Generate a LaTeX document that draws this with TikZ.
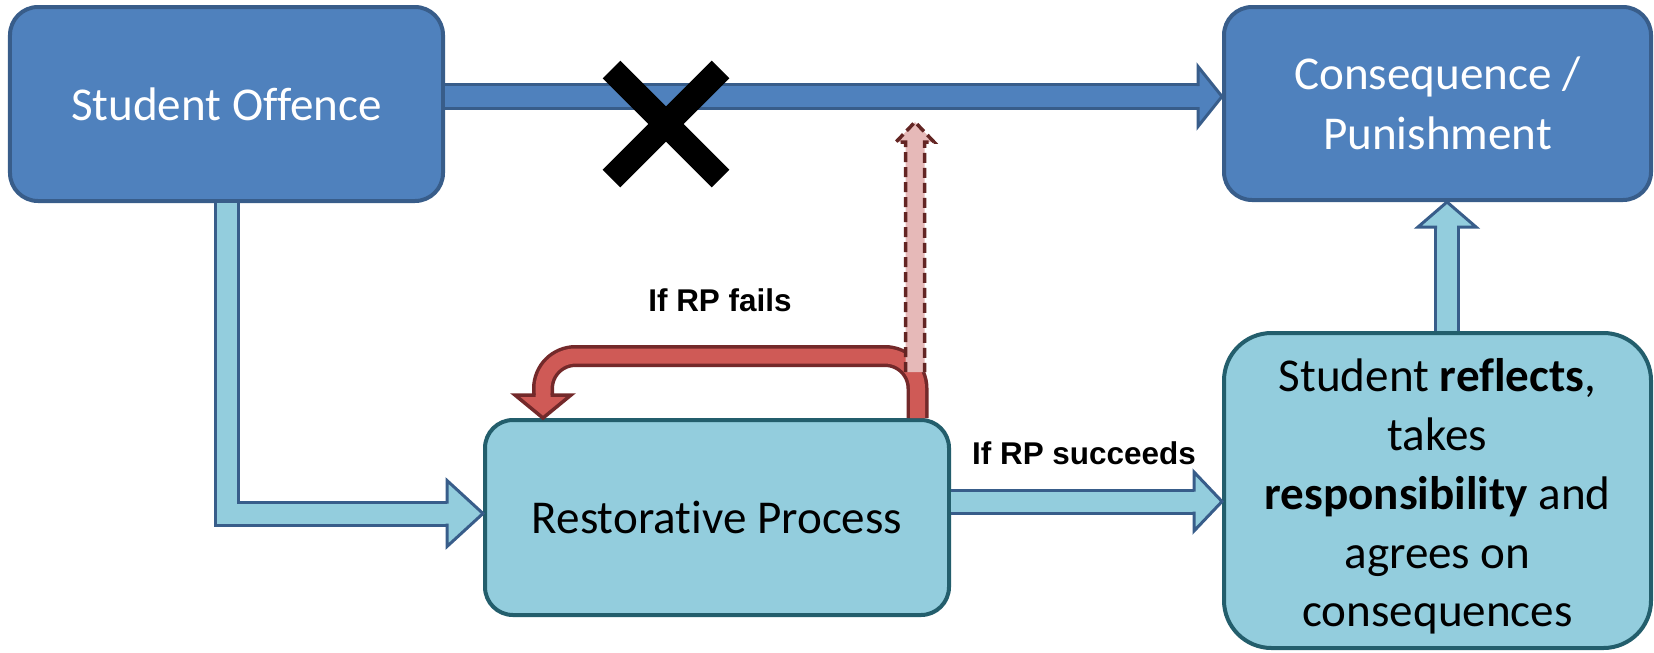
\documentclass[tikz,border=0pt]{standalone}
\usepackage{fontspec}
\setmainfont{Carlito}[Ligatures=NoCommon]
\newfontfamily\labelfont{Liberation Sans}
\usetikzlibrary{calc}

\definecolor{offblue}{HTML}{4F81BD}
\definecolor{edgeblue}{HTML}{385D8A}
\definecolor{rpblue}{HTML}{93CDDD}
\definecolor{edgeteal}{HTML}{235E6C}
\definecolor{failred}{HTML}{CF5A56}
\definecolor{edgered}{HTML}{73292A}
\definecolor{dashpink}{HTML}{E6B9B8}
\definecolor{edgebrown}{HTML}{632523}

\begin{document}
\begin{tikzpicture}
        % Styles
        \tikzstyle{box}=[rounded corners=0.56cm,line width=0.08cm,align=center,font=\fontsize{26.8}{34}\selectfont]
        \tikzstyle{dark box}=[box,fill=offblue,draw=edgeblue,text=white]
        \tikzstyle{light box}=[box,fill=rpblue,draw=edgeteal,text=black]
        \tikzstyle{dark shaft}=[draw=edgeblue,line width=0.06cm,double=offblue,double distance=0.42cm]
        \tikzstyle{dark head}=[draw=edgeblue,line width=0.06cm,fill=offblue]
        \tikzstyle{light shaft}=[draw=edgeblue,line width=0.06cm,double=rpblue,double distance=0.4cm]
        \tikzstyle{light head}=[draw=edgeblue,line width=0.06cm,fill=rpblue]
        \tikzstyle{fail shaft}=[draw=edgered,line width=0.07cm,double=failred,double distance=0.3cm,rounded corners=0.65cm]
        \tikzstyle{fail head}=[draw=edgered,line width=0.07cm,fill=failred]
        \tikzstyle{escalate}=[draw=edgebrown,line width=0.07cm,fill=dashpink,dash pattern=on 0.2cm off 0.1cm]
        \tikzstyle{branch label}=[font=\labelfont\bfseries\fontsize{17.9}{21}\selectfont]
        \useasboundingbox (0,0) rectangle (33.08,-13.04);
        %boxes
        \node[dark box,minimum width=8.66cm,minimum height=3.88cm] (offence) at (4.53,-2.08) {Student Offence};
        \node[dark box,minimum width=8.54cm,minimum height=3.86cm] (cons) at (28.75,-2.07) {Consequence /\\Punishment};
        \node[light box,minimum width=9.28cm,minimum height=3.9cm] (rp) at (14.34,-10.35) {Restorative Process};
        \node[light box,rounded corners=0.95cm,minimum width=8.54cm,minimum height=6.3cm,
              font=\fontsize{26.8}{33.5}\selectfont] (refl) at (28.75,-9.81)
            {\\[-0.28cm]Student \textbf{reflects},\\takes\\\textbf{responsibility} and\\agrees on\\consequences};
        %direct route
        \coordinate (direct) at ($(offence.east)+(0,0.15)$);
        \coordinate (directend) at (cons.west |- direct);
        \draw[dark shaft] (direct) -- ([xshift=-0.48cm]directend);
        \draw[dark head,shift={(directend)}] (-0.48,0.21) -- (-0.48,0.6) -- (0,0) -- (-0.48,-0.6) -- (-0.48,-0.21);
        \draw[line width=0.5cm] (12.23,-1.39) -- (14.41,-3.57) (12.23,-3.57) -- (14.41,-1.39);
        %into the restorative process
        \coordinate (intake) at ($(rp.west)+(0,0.08)$);
        \draw[light shaft] (offence.south) |- ([xshift=-0.72cm]intake);
        \draw[light head,shift={(intake)}] (-0.72,0.2) -- (-0.72,0.66) -- (0,0) -- (-0.72,-0.66) -- (-0.72,-0.2);
        %success
        \coordinate (success) at ($(rp.east)+(0,0.32)$);
        \coordinate (successend) at (refl.west |- success);
        \draw[light shaft] (success) -- ([xshift=-0.56cm]successend);
        \draw[light head,shift={(successend)}] (-0.56,0.2) -- (-0.56,0.59) -- (0,0) -- (-0.56,-0.59) -- (-0.56,-0.2);
        \node[branch label] (successlabel) at (21.68,-9.06) {If RP succeeds};
        \coordinate (accept) at ($(refl.north)+(0.19,0)$);
        \coordinate (acceptend) at (cons.south -| accept);
        \draw[light shaft] (accept) -- ([yshift=-0.5cm]acceptend);
        \draw[light head,shift={(acceptend)},rotate=90] (-0.5,0.2) -- (-0.5,0.58) -- (0,0) -- (-0.5,-0.58) -- (-0.5,-0.2);
        %failure loop
        \coordinate (failstart) at ($(rp.north)+(4.01,0)$);
        \coordinate (failend) at ($(rp.north)+(-3.48,0)$);
        \draw[fail shaft] (failstart) -- ++(0,1.24) -| ($(failend)+(0,0.46)$);
        \draw[fail head,shift={(failend)}] (-0.15,0.46) -- (-0.56,0.46) -- (0,0) -- (0.56,0.46) -- (0.15,0.46);
        \node[branch label] (faillabel) at (14.4,-6.0) {If RP fails};
        \coordinate (esctip) at ($(failstart)+(-0.05,5.92)$);
        \draw[escalate,shift={(esctip)}] (-0.19,-5.0) -- (-0.19,-0.4) -- (-0.38,-0.4) -- (0,0) -- (0.38,-0.4) -- (0.19,-0.4) -- (0.19,-5.0);
\end{tikzpicture}
\end{document}
